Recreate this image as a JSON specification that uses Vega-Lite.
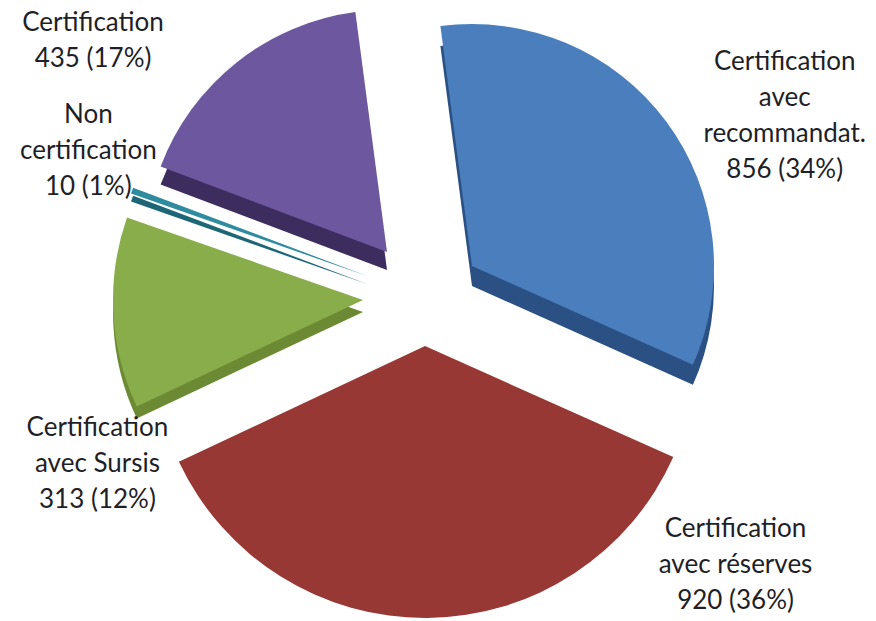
{
  "$schema": "https://vega.github.io/schema/vega-lite/v6.json",
  "width": 840,
  "height": 600,
  "autosize": "none",
  "padding": {"left": 0, "top": 0, "right": 36, "bottom": 21},
  "background": "white",
  "data": {
    "values": [
      {"cat": "Certification avec recommandat.", "value": 856, "ord": 1, "label": "Certification\navec\nrecommandat.\n856 (34%)"},
      {"cat": "Certification avec réserves", "value": 920, "ord": 2, "label": "Certification\navec réserves\n920 (36%)"},
      {"cat": "Certification avec Sursis", "value": 313, "ord": 3, "label": "Certification\navec Sursis\n313 (12%)"},
      {"cat": "Non certification", "value": 10, "ord": 4, "label": "Non\ncertification\n10 (1%)"},
      {"cat": "Certification", "value": 435, "ord": 5, "label": "Certification\n435 (17%)"}
    ]
  },
  "encoding": {
    "theta": {"field": "value", "type": "quantitative", "stack": true, "scale": {"range": [-0.131, 6.152]}},
    "order": {"field": "ord", "type": "quantitative", "sort": "ascending"},
    "detail": {"field": "cat"}
  },
  "layer": [
    {"mark": {"type": "arc", "radius": 242, "xOffset": 52, "yOffset": -14, "color": "#2b5083"},
     "encoding": {"opacity": {"condition": {"test": "datum.ord == 1", "value": 1}, "value": 0}}},
    {"mark": {"type": "arc", "radius": 250, "xOffset": -57, "yOffset": 12, "color": "#6b8a33"},
     "encoding": {"opacity": {"condition": {"test": "datum.ord == 3", "value": 1}, "value": 0}}},
    {"mark": {"type": "arc", "radius": 250, "xOffset": -53, "yOffset": -16, "color": "#1c6676"},
     "encoding": {"opacity": {"condition": {"test": "datum.ord == 4", "value": 1}, "value": 0}}},
    {"mark": {"type": "arc", "radius": 242, "xOffset": -33, "yOffset": -30, "color": "#3d2d5e"},
     "encoding": {"opacity": {"condition": {"test": "datum.ord == 5", "value": 1}, "value": 0}}},

    {"mark": {"type": "arc", "radius": 242, "xOffset": 52, "yOffset": -34, "color": "#4a7ebd"},
     "encoding": {"opacity": {"condition": {"test": "datum.ord == 1", "value": 1}, "value": 0}}},
    {"mark": {"type": "arc", "radius": 272, "xOffset": 5, "yOffset": 46, "color": "#983834"},
     "encoding": {"opacity": {"condition": {"test": "datum.ord == 2", "value": 1}, "value": 0}}},
    {"mark": {"type": "arc", "radius": 250, "xOffset": -57, "yOffset": 0, "color": "#8aad4b"},
     "encoding": {"opacity": {"condition": {"test": "datum.ord == 3", "value": 1}, "value": 0}}},
    {"mark": {"type": "arc", "radius": 250, "xOffset": -53, "yOffset": -24, "color": "#2f8c9e"},
     "encoding": {"opacity": {"condition": {"test": "datum.ord == 4", "value": 1}, "value": 0}}},
    {"mark": {"type": "arc", "radius": 242, "xOffset": -33, "yOffset": -48, "color": "#6d58a0"},
     "encoding": {"opacity": {"condition": {"test": "datum.ord == 5", "value": 1}, "value": 0}}},

    {
      "mark": {"type": "text", "radius": 420, "dx": 28, "dy": 13, "font": "Lato", "fontSize": 26, "lineHeight": 36, "lineBreak": "\n", "align": "center", "baseline": "middle", "color": "#1f1f28"},
      "encoding": {"text": {"condition": {"test": "datum.ord == 1", "field": "label"}, "value": ""}}
    },
    {
      "mark": {"type": "text", "radius": 265, "dx": 313, "dy": -36, "font": "Lato", "fontSize": 26, "lineHeight": 36, "lineBreak": "\n", "align": "center", "baseline": "middle", "color": "#1f1f28"},
      "encoding": {"text": {"condition": {"test": "datum.ord == 2", "field": "label"}, "value": ""}}
    },
    {
      "mark": {"type": "text", "radius": 323, "dx": 0, "dy": 111, "font": "Lato", "fontSize": 26, "lineHeight": 36, "lineBreak": "\n", "align": "center", "baseline": "middle", "color": "#1f1f28"},
      "encoding": {"text": {"condition": {"test": "datum.ord == 3", "field": "label"}, "value": ""}}
    },
    {
      "mark": {"type": "text", "radius": 338, "dx": -14, "dy": -70, "font": "Lato", "fontSize": 26, "lineHeight": 36, "lineBreak": "\n", "align": "center", "baseline": "middle", "color": "#1f1f28"},
      "encoding": {"text": {"condition": {"test": "datum.ord == 4", "field": "label"}, "value": ""}}
    },
    {
      "mark": {"type": "text", "radius": 420, "dx": -66, "dy": 52, "font": "Lato", "fontSize": 26, "lineHeight": 36, "lineBreak": "\n", "align": "center", "baseline": "middle", "color": "#1f1f28"},
      "encoding": {"text": {"condition": {"test": "datum.ord == 5", "field": "label"}, "value": ""}}
    }
  ]
}
